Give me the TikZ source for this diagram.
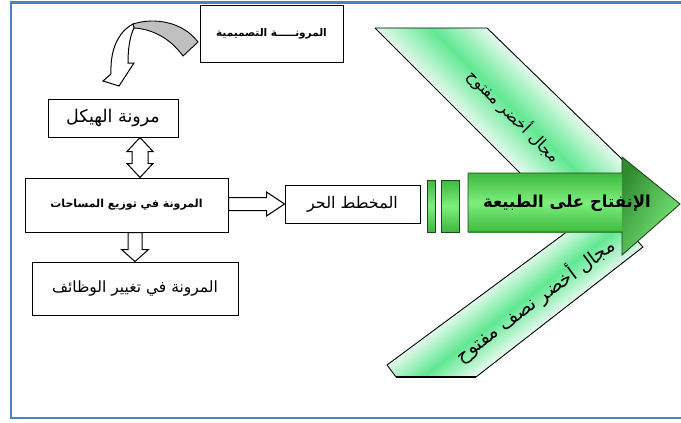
\documentclass[tikz,border=0pt]{standalone}
\usepackage{fontspec}
\newfontfamily\arabicfont[Script=Arabic]{DejaVu Sans}
\TeXXeTstate=1
\usetikzlibrary{calc}
\definecolor{frameblue}{RGB}{79,129,189}
\definecolor{bandmint}{RGB}{230,251,238}
\definecolor{bandgreen}{RGB}{95,232,145}
\definecolor{gedge}{RGB}{62,185,62}
\definecolor{gmid}{RGB}{125,238,125}
\definecolor{gdark}{RGB}{48,140,48}
\definecolor{gline}{RGB}{30,70,30}
\definecolor{greyback}{RGB}{192,192,192}
\begin{document}
\begin{tikzpicture}[x=1pt,y=-1pt,
  box/.style={draw=black,line width=1pt,fill=white,inner sep=0pt},
  harrow/.style={draw=black,line width=1pt,fill=white,line join=miter},
  bandline/.style={draw=black,line width=0.9pt,line join=miter},
  artext/.style={font=\arabicfont\fontsize{16}{18}\selectfont}]
\useasboundingbox (0,0) rectangle (681,423);
% frame
\draw[frameblue,line width=2.2pt] (690,2.5) -- (11,2.5) -- (11,418) -- (690,418);

% upper band
\begin{scope}
\clip (375,28) -- (487,28) -- (628,165) -- (628,190) -- (537,190) -- cycle;
\fill[bandmint] (370,20) rectangle (640,200);
\foreach \i [evaluate=\i as \w using (1-\i/24)*82, evaluate=\i as \pc using \i*100/24] in {0,...,24}
  \draw[line width=\w pt, color=bandgreen!\pc!bandmint] (380,-22) -- (640,234);
\end{scope}
\draw[bandline] (375,28) -- (487,28) -- (628,165);
\draw[bandline] (375,28) -- (537,190);

% lower band
\begin{scope}
\clip (387,365) -- (396,377) -- (476,377) -- (643,247) -- (625,228) -- (572,228) -- cycle;
\fill[bandmint] (380,220) rectangle (650,380);
\foreach \i [evaluate=\i as \w using (1-\i/24)*64, evaluate=\i as \pc using \i*100/24] in {0,...,24}
  \draw[line width=\w pt, color=bandgreen!\pc!bandmint] (380,410) -- (660,197);
\end{scope}
\draw[bandline] (572,228) -- (387,365) -- (396,377);
\draw[bandline] (476,377) -- (643,247) -- (625,228);
\draw[black,line width=2pt] (396,377) -- (476,377);

% bars
\shade[top color=gedge,bottom color=gedge,middle color=gmid] (427,180) rectangle (435,232);
\shade[top color=gedge,bottom color=gedge,middle color=gmid] (441,180) rectangle (459,232);
\draw[gline,line width=0.8pt] (427,180) rectangle (435,232);
\draw[gline,line width=0.8pt] (441,180) rectangle (459,232);

% big arrow
\shade[top color=gedge,bottom color=gedge,middle color=gmid] (468,173) rectangle (622.5,232);
\shade[left color=gdark,right color=gmid,shading angle=60] (622,157) -- (680,204) -- (622,255) -- cycle;
\draw[gline,line width=0.9pt,line join=miter] (468,173) -- (622,173) -- (622,157) -- (680,204) -- (622,255) -- (622,232) -- (468,232) -- cycle;

% band texts
\node[artext,rotate=-45] (tu) at (514,116) {\beginR مجال أخضر مفتوح\endR};
\node[font=\arabicfont\fontsize{19}{21}\selectfont,rotate=36.5] (tl) at (535,300) {\beginR مجال أخضر نصف مفتوح\endR};
\node[font=\arabicfont\bfseries\fontsize{16.5}{19}\selectfont] (tg) at (567,203) {\beginR الإنفتاح على الطبيعة\endR};

% boxes
\node[box,minimum width=143pt,minimum height=57pt,font=\arabicfont\bfseries\fontsize{10.5}{12}\selectfont] (b1) at (271.5,33.5) {\beginR المرونـــــة التصميمية\endR};
\node[box,minimum width=130pt,minimum height=38pt,font=\arabicfont\fontsize{17.5}{20}\selectfont] (b2) at (113,118) {\beginR مرونة الهيكل\endR};
\node[box,minimum width=203pt,minimum height=54pt,font=\arabicfont\bfseries\fontsize{11}{13}\selectfont] (b3) at (126.5,205) {\beginR المرونة في توزيع المساحات\endR};
\node[box,minimum width=135pt,minimum height=38pt,font=\arabicfont\fontsize{16}{18}\selectfont] (b4) at (352.5,204) {\beginR المخطط الحر\endR};
\node[box,minimum width=206pt,minimum height=53pt,font=\arabicfont\fontsize{15.5}{18}\selectfont] (b5) at (135,288.5) {\beginR المرونة في تغيير الوظائف\endR};

% curved arrow from b1
\fill[greyback,draw=black,line width=0.9pt] (133,24) .. controls (155,17) and (183,22) .. (198,42) -- (183,56) .. controls (170,38) and (152,29) .. (134,28) -- cycle;
\draw[harrow] (133,24) .. controls (118,32) and (110,50) .. (111,74) -- (103,81) -- (119,86) -- (134,63) -- (128,63) .. controls (128,48) and (130,36) .. (134,28) -- cycle;

% block arrows
\coordinate (dt) at (b2.south -| 140,0);
\coordinate (db) at (b3.north -| 140,0);
\draw[harrow] (dt) -- ++(13,14) -- ++(-5,0) -- ($(db)+(8,-14)$) -- ++(5,0) -- (db) -- ++(-13,-14) -- ++(5,0) -- ($(dt)+(-8,14)$) -- ++(-5,0) -- cycle;
\coordinate (ra) at (b3.east |- b4.west);
\coordinate (rb) at (b4.west);
\draw[harrow] ($(ra)+(0,-6.5)$) -- ($(rb)+(-18,-6.5)$) -- ++(0,-5.5) -- (rb) -- ($(rb)+(-18,12)$) -- ++(0,-5.5) -- ($(ra)+(0,6.5)$) -- cycle;
\coordinate (da) at (b3.south -| 135,0);
\coordinate (dd) at (b5.north -| 135,0);
\draw[harrow] ($(da)+(-7,0)$) -- ($(dd)+(-7,-12)$) -- ++(-6.5,0) -- (dd) -- ($(dd)+(13.5,-12)$) -- ++(-6.5,0) -- ($(da)+(7,0)$) -- cycle;
\end{tikzpicture}
\end{document}
